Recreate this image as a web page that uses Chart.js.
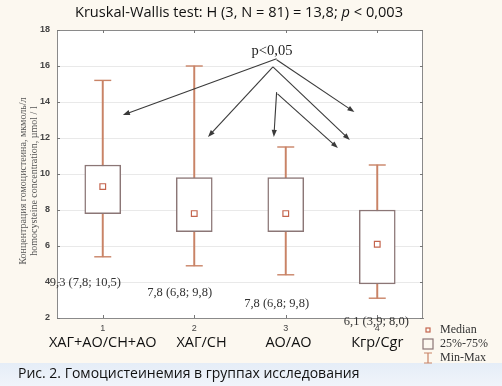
<!DOCTYPE html>
<html>
<head>
<meta charset="utf-8">
<script src="https://cdn.jsdelivr.net/npm/chart.js@4"></script>
<style>
html,body{margin:0;padding:0;background:#fcf8f0;}
#wrap{width:502px;height:386px;position:relative;}
canvas{display:block;}
</style>
</head>
<body>
<div id="wrap"><canvas id="c" width="502" height="386"></canvas></div>
<script>
// ---- data ----
const tickNumbers = ["1", "2", "3", "4"];
const groupNames = ["ХАГ+АО/СН+АО", "ХАГ/СН", "АО/АО", "Кгр/Cgr"];
const mins    = [5.4, 4.9, 4.4, 3.1];
const q1s     = [7.8, 6.8, 6.8, 3.9];
const medians = [9.3, 7.8, 7.8, 6.1];
const q3s     = [10.5, 9.8, 9.8, 8.0];
const maxs    = [15.2, 16.0, 11.5, 10.5];
const yTicks  = [2, 4, 6, 8, 10, 12, 14, 16, 18];
const titleText = ["Kruskal-Wallis test: H (3, N = 81) = 13,8; ", "p", " < 0,003"];
const captionText = "Рис. 2. Гомоцистеинемия в группах исследования";
const yTitle = ["Концентрация гомоцистеина, мкмоль/л", "homocysteine concentration, µmol / l"];
const legendItems = ["Median", "25%-75%", "Min-Max"];
const pLabel = "p<0,05";
// annotation anchors in data units (category index, value)
const pLabelPos = [1.85, 16.85];
const arrowFrom = [[1.90, 16.40], [1.86, 15.95], [1.90, 16.35], [1.86, 15.95], [1.90, 14.55], [1.91, 14.45]];
const arrowTo   = [[0.22, 13.28], [1.15, 12.06], [2.75, 13.44], [2.70, 11.89], [1.87, 12.06], [2.57, 11.44]];
const statLabelPos = [[-0.19, 3.94], [0.84, 3.39], [1.90, 2.78], [2.99, 1.78]];
const groupNameShift = [0, 0.08, 0.03, 0];

const fmt = v => v.toFixed(1).replace('.', ',');
const statLabels = medians.map((m, i) => fmt(m) + " (" + fmt(q1s[i]) + "; " + fmt(q3s[i]) + ")");

const whiskerColor = '#c98366';
const boxColor = '#8b7676';
const medianColor = '#c4654e';

const decor = {
  id: 'decor',
  beforeDraw(chart) {
    const ctx = chart.ctx, a = chart.chartArea;
    ctx.save();
    ctx.fillStyle = '#fcf8f0';
    ctx.fillRect(0, 0, chart.width, chart.height);
    const g = ctx.createLinearGradient(0, 363, 0, 386);
    g.addColorStop(0, '#e5edf7');
    g.addColorStop(1, '#f0f4fa');
    ctx.fillStyle = g;
    ctx.fillRect(0, 363, chart.width, 23);
    ctx.fillStyle = '#ffffff';
    ctx.fillRect(a.left, a.top, a.right - a.left, a.bottom - a.top);
    ctx.restore();
  },
  afterDraw(chart) {
    const ctx = chart.ctx, a = chart.chartArea;
    const xs = chart.scales.x, ys = chart.scales.y;
    const px = v => xs.getPixelForValue(v);
    const py = v => ys.getPixelForValue(v);
    ctx.save();
    // frame
    ctx.strokeStyle = '#8a8a8a';
    ctx.lineWidth = 1;
    ctx.strokeRect(a.left + 0.5, a.top + 0.5, a.right - a.left - 1, a.bottom - a.top);
    // small tick marks
    ctx.strokeStyle = '#777';
    for (let i = 0; i < tickNumbers.length; i++) {
      const x = Math.round(px(i)) + 0.5;
      ctx.beginPath(); ctx.moveTo(x, a.top); ctx.lineTo(x, a.top + 3); ctx.stroke();
      ctx.beginPath(); ctx.moveTo(x, a.bottom); ctx.lineTo(x, a.bottom - 3); ctx.stroke();
    }
    yTicks.forEach(v => {
      const y = Math.round(py(v)) + 0.5;
      ctx.beginPath(); ctx.moveTo(a.right, y); ctx.lineTo(a.right - 3, y); ctx.stroke();
      ctx.beginPath(); ctx.moveTo(a.left, y); ctx.lineTo(a.left + 3, y); ctx.stroke();
    });
    // title
    ctx.fillStyle = '#111';
    ctx.textBaseline = 'middle';
    const fN = '14.6px "Open Sans"', fI = 'italic 14.6px "Open Sans"';
    let w = 0;
    titleText.forEach((t, i) => { ctx.font = i === 1 ? fI : fN; w += ctx.measureText(t).width; });
    let x0 = 239 - w / 2;
    titleText.forEach((t, i) => {
      ctx.font = i === 1 ? fI : fN;
      ctx.textAlign = 'left';
      ctx.fillText(t, x0, 13);
      x0 += ctx.measureText(t).width;
    });
    // y title
    ctx.fillStyle = '#555';
    ctx.font = '10px "Liberation Serif"';
    ctx.textAlign = 'center';
    yTitle.forEach((t, i) => {
      ctx.save();
      ctx.translate(23 + i * 11, 181);
      ctx.rotate(-Math.PI / 2);
      ctx.fillText(t, 0, 0);
      ctx.restore();
    });
    // group names
    ctx.fillStyle = '#111';
    ctx.font = '14.5px "Open Sans"';
    groupNames.forEach((t, i) => ctx.fillText(t, px(i + groupNameShift[i]), 343));
    // caption
    ctx.textAlign = 'left';
    ctx.font = '14px "Open Sans"';
    ctx.fillText(captionText, 18, 374);
    // stat labels
    ctx.fillStyle = '#333';
    ctx.font = '12.5px "Liberation Serif"';
    ctx.textAlign = 'center';
    statLabels.forEach((t, i) => ctx.fillText(t, px(statLabelPos[i][0]), py(statLabelPos[i][1])));
    // p label
    ctx.fillStyle = '#222';
    ctx.font = '14.5px "Liberation Serif"';
    ctx.fillText(pLabel, px(pLabelPos[0]), py(pLabelPos[1]));
    // arrows
    ctx.strokeStyle = '#3a3a3a';
    ctx.fillStyle = '#3a3a3a';
    ctx.lineWidth = 1.1;
    arrowFrom.forEach((f, i) => {
      const x1 = px(f[0]), y1 = py(f[1]), x2 = px(arrowTo[i][0]), y2 = py(arrowTo[i][1]);
      const ang = Math.atan2(y2 - y1, x2 - x1);
      ctx.beginPath(); ctx.moveTo(x1, y1); ctx.lineTo(x2 - 3 * Math.cos(ang), y2 - 3 * Math.sin(ang)); ctx.stroke();
      const L = 7, W = 2.6;
      ctx.beginPath();
      ctx.moveTo(x2, y2);
      ctx.lineTo(x2 - L * Math.cos(ang) + W * Math.sin(ang), y2 - L * Math.sin(ang) - W * Math.cos(ang));
      ctx.lineTo(x2 - L * Math.cos(ang) - W * Math.sin(ang), y2 - L * Math.sin(ang) + W * Math.cos(ang));
      ctx.closePath(); ctx.fill();
    });
    // legend
    const lx = 428, ly = [330, 344, 358];
    ctx.lineWidth = 1.2;
    ctx.strokeStyle = medianColor;
    ctx.strokeRect(lx - 2, ly[0] - 2, 4, 4);
    ctx.strokeStyle = boxColor;
    ctx.strokeRect(lx - 5, ly[1] - 5, 10, 10);
    ctx.strokeStyle = whiskerColor;
    ctx.beginPath();
    ctx.moveTo(lx - 4, ly[2] - 5); ctx.lineTo(lx + 4, ly[2] - 5);
    ctx.moveTo(lx, ly[2] - 5); ctx.lineTo(lx, ly[2] + 5);
    ctx.moveTo(lx - 4, ly[2] + 5); ctx.lineTo(lx + 4, ly[2] + 5);
    ctx.stroke();
    ctx.fillStyle = '#333';
    ctx.font = '12px "Liberation Serif"';
    ctx.textAlign = 'left';
    legendItems.forEach((t, i) => ctx.fillText(t, 440, ly[i]));
    ctx.restore();
  }
};

new Chart(document.getElementById('c'), {
  data: {
    labels: tickNumbers,
    datasets: [
      { type: 'line', data: medians, showLine: false, pointStyle: 'rect', pointRadius: 4,
        pointBackgroundColor: '#fff', pointBorderColor: medianColor, pointBorderWidth: 1.2, order: 0 },
      { type: 'line', data: maxs, showLine: false, pointStyle: 'line', pointRadius: 8.5,
        pointBorderColor: whiskerColor, pointBorderWidth: 1.4, order: 1 },
      { type: 'line', data: mins, showLine: false, pointStyle: 'line', pointRadius: 8.5,
        pointBorderColor: whiskerColor, pointBorderWidth: 1.4, order: 1 },
      { type: 'bar', data: q1s.map((q, i) => [q, q3s[i]]), grouped: false, barThickness: 36,
        backgroundColor: '#fff', borderColor: boxColor, borderWidth: 1.5, borderSkipped: false, order: 2 },
      { type: 'bar', data: mins.map((m, i) => [m, maxs[i]]), grouped: false, barThickness: 1.3,
        backgroundColor: whiskerColor, borderWidth: 0, order: 3 }
    ]
  },
  options: {
    responsive: false,
    animation: false,
    events: [],
    layout: { padding: { top: 30, right: 79, left: 0, bottom: 0 } },
    plugins: { legend: { display: false }, tooltip: { enabled: false }, title: { display: false } },
    scales: {
      x: {
        type: 'category', offset: true,
        grid: { display: false, drawTicks: false },
        border: { color: '#8a8a8a' },
        ticks: { padding: 5, color: '#444', font: { size: 9, family: 'Arial' } },
        afterFit: s => { s.height = 68; }
      },
      y: {
        min: 2, max: 18,
        grid: { color: '#e9e9e9', drawTicks: false },
        border: { color: '#8a8a8a' },
        ticks: { stepSize: 2, padding: 7, color: '#444', font: { size: 9, family: 'Arial', weight: 'bold' } },
        afterFit: s => { s.width = 57; }
      }
    }
  },
  plugins: [decor]
});
</script>
</body>
</html>
